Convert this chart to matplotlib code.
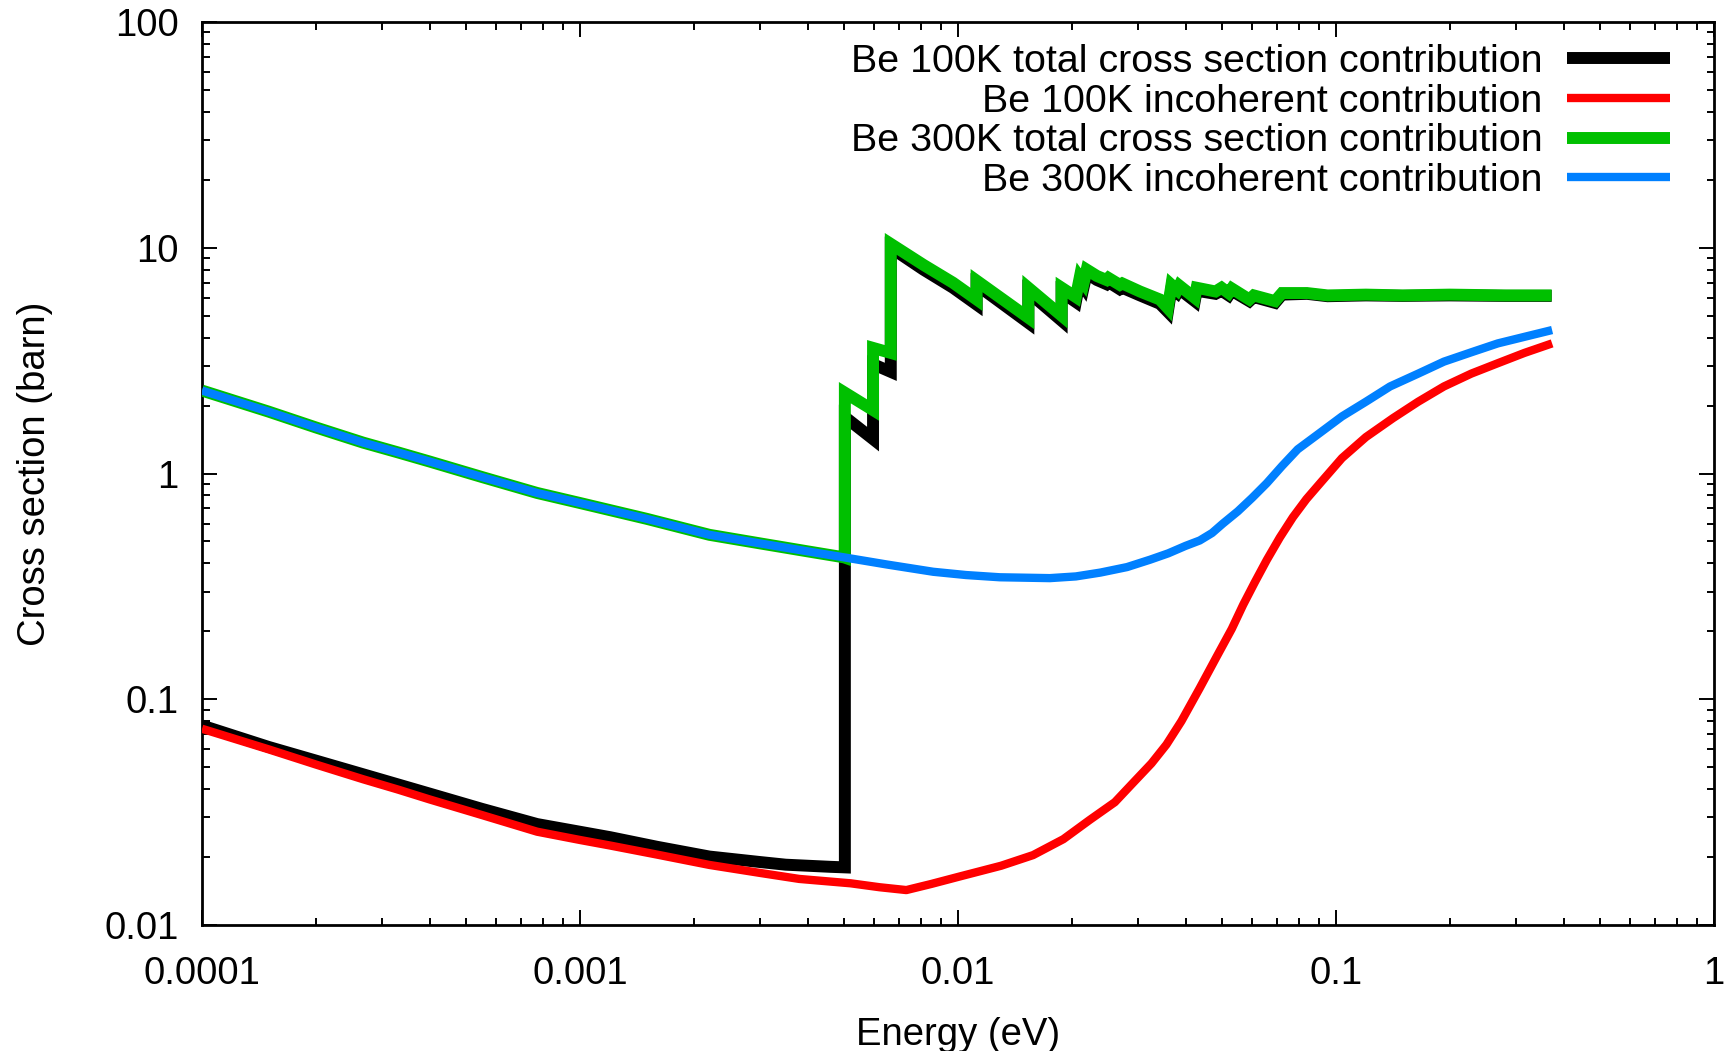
import matplotlib
matplotlib.use("Agg")
import matplotlib.pyplot as plt
from matplotlib.ticker import FixedLocator, FixedFormatter, LogLocator, NullFormatter

plt.rcParams['font.family'] = ['Liberation Sans', 'DejaVu Sans']

# Be 300K incoherent contribution (blue)
e_300_inc = [1.0e-4, 1.5e-4, 2.0e-4, 2.67e-4, 3.3e-4, 4.0e-4, 5.5e-4, 7.7e-4, 1.0e-3,
             1.5e-3, 2.2e-3, 3.0e-3, 4.0e-3, 5.0e-3, 6.5e-3, 8.6e-3, 0.0105, 0.0129,
             0.0175, 0.0205, 0.0238, 0.028, 0.0322, 0.036, 0.040, 0.0436, 0.047,
             0.0502, 0.055, 0.060, 0.0656, 0.072, 0.0792, 0.09, 0.1037, 0.12, 0.139,
             0.165, 0.193, 0.23, 0.268, 0.315, 0.373]
s_300_inc = [2.33, 1.88, 1.60, 1.37, 1.24, 1.13, 0.965, 0.82, 0.74,
             0.63, 0.535, 0.49, 0.452, 0.425, 0.395, 0.367, 0.355, 0.347,
             0.344, 0.350, 0.364, 0.385, 0.415, 0.443, 0.478, 0.505, 0.545,
             0.60, 0.68, 0.78, 0.906, 1.08, 1.28, 1.50, 1.79, 2.08, 2.43,
             2.77, 3.13, 3.46, 3.77, 4.03, 4.32]

# Be 100K incoherent contribution (red)
e_100_inc = [1.0e-4, 1.5e-4, 2.0e-4, 2.67e-4, 3.3e-4, 4.0e-4, 5.5e-4, 7.7e-4, 1.0e-3,
             1.2e-3, 1.6e-3, 2.2e-3, 3.0e-3, 3.8e-3, 5.2e-3, 6.2e-3, 7.3e-3, 8.5e-3,
             0.0101, 0.013, 0.0158, 0.019, 0.0223, 0.026, 0.029, 0.0325, 0.0356,
             0.039, 0.0436, 0.0484, 0.053, 0.0568, 0.061, 0.0656, 0.071, 0.0769,
             0.0835, 0.0908, 0.1037, 0.12, 0.1416, 0.165, 0.193, 0.228, 0.268,
             0.315, 0.373]
s_100_inc = [0.074, 0.060, 0.0514, 0.0442, 0.0398, 0.036, 0.0307, 0.0259, 0.0238,
             0.0225, 0.0205, 0.01845, 0.0170, 0.0160, 0.0153, 0.0147, 0.01428, 0.0152,
             0.0164, 0.0183, 0.0204, 0.0240, 0.0292, 0.0350, 0.0425, 0.052, 0.063,
             0.080, 0.112, 0.155, 0.205, 0.262, 0.33, 0.414, 0.52, 0.64,
             0.77, 0.906, 1.17, 1.45, 1.76, 2.08, 2.43, 2.77, 3.08,
             3.42, 3.77]

# Bragg edges, 300K total (green); below the first edge it is the incoherent part
e_300_bragg = [5.02e-3, 5.02e-3, 5.96e-3, 5.96e-3, 6.64e-3, 6.64e-3, 8.1e-3, 9.7e-3,
               0.0112, 0.0112, 0.01535, 0.01535, 0.0188, 0.0188, 0.0205, 0.0210,
               0.0215, 0.0219, 0.0233, 0.0247, 0.0250, 0.0268, 0.0272, 0.0303,
               0.0342, 0.0359, 0.0367, 0.0380, 0.0385, 0.0423, 0.0428, 0.0480,
               0.0498, 0.0520, 0.0530, 0.0590, 0.0606, 0.0690, 0.0720, 0.0838,
               0.095, 0.12, 0.15, 0.2, 0.28, 0.372]
s_300_bragg = [0.424, 2.28, 1.91, 3.60, 3.42, 10.4, 8.4, 7.0,
               5.9, 7.15, 4.9, 6.65, 5.0, 6.65, 6.05, 7.4,
               7.0, 8.0, 7.5, 7.2, 7.35, 6.85, 6.95, 6.4,
               5.9, 5.4, 6.85, 6.5, 6.8, 6.0, 6.65, 6.4,
               6.65, 6.3, 6.6, 5.9, 6.15, 5.8, 6.3, 6.3,
               6.15, 6.2, 6.15, 6.2, 6.15, 6.15]

# 100K total (black)
e_100_tot = [1.0e-4, 1.5e-4, 2.0e-4, 2.67e-4, 4.0e-4, 5.5e-4, 7.7e-4, 1.2e-3, 1.6e-3,
             2.2e-3, 3.0e-3, 3.5e-3, 4.6e-3,
             5.02e-3, 5.02e-3, 5.96e-3, 5.96e-3, 6.64e-3, 6.64e-3, 8.1e-3, 9.7e-3,
             0.0112, 0.0112, 0.01535, 0.01535, 0.0188, 0.0188, 0.0205, 0.0210,
             0.0215, 0.0219, 0.0233, 0.0247, 0.0250, 0.0268, 0.0272, 0.0303,
             0.0342, 0.0359, 0.0367, 0.0380, 0.0385, 0.0423, 0.0428, 0.0480,
             0.0498, 0.0520, 0.0530, 0.0590, 0.0606, 0.0690, 0.0720, 0.0838,
             0.095, 0.12, 0.15, 0.2, 0.28, 0.372]
s_100_tot = [0.0765, 0.0615, 0.0535, 0.0465, 0.0382, 0.0327, 0.0280, 0.0245, 0.0222,
             0.0201, 0.0190, 0.0185, 0.0181,
             0.0180, 1.78, 1.42, 3.05, 2.82, 10.0, 8.0, 6.65,
             5.6, 6.85, 4.65, 6.35, 4.75, 6.35, 5.75, 7.1,
             6.7, 7.7, 7.2, 6.9, 7.05, 6.55, 6.65, 6.15,
             5.65, 5.2, 6.6, 6.3, 6.55, 5.8, 6.45, 6.25,
             6.45, 6.15, 6.45, 5.8, 6.05, 5.7, 6.2, 6.25,
             6.1, 6.15, 6.12, 6.15, 6.12, 6.12]

labels = ["Be 100K total cross section contribution",
          "Be 100K incoherent contribution",
          "Be 300K total cross section contribution",
          "Be 300K incoherent contribution"]
colors = ["black", "#ff0000", "#00c000", "#0080ff"]

x_ticks = [1e-4, 1e-3, 1e-2, 1e-1, 1]
x_ticklabels = ["0.0001", "0.001", "0.01", "0.1", "1"]
y_ticks = [1e-2, 1e-1, 1, 10, 100]
y_ticklabels = ["0.01", "0.1", "1", "10", "100"]

n_low = 14  # points of the 300K incoherent curve below the first Bragg edge
e_300_tot = e_300_inc[:n_low] + e_300_bragg
s_300_tot = s_300_inc[:n_low] + s_300_bragg

fs = 27.5
fig = plt.figure(figsize=(17.31, 10.51), dpi=100)
ax = fig.add_axes([202 / 1731, 1 - 925 / 1051, 1512 / 1731, 903 / 1051])

thick = 8.6
thin = 6.0
ax.plot(e_100_tot, s_100_tot, color=colors[0], lw=thick, label=labels[0],
        solid_joinstyle="miter", solid_capstyle="butt", zorder=2)
ax.plot(e_100_inc, s_100_inc, color=colors[1], lw=thin, label=labels[1],
        solid_capstyle="butt", zorder=3)
ax.plot(e_300_tot, s_300_tot, color=colors[2], lw=thick, label=labels[2],
        solid_joinstyle="miter", solid_capstyle="butt", zorder=4)
ax.plot(e_300_inc, s_300_inc, color=colors[3], lw=thin, label=labels[3],
        solid_capstyle="butt", zorder=5)

ax.set_xscale("log")
ax.set_yscale("log")
ax.set_xlim(1e-4, 1)
ax.set_ylim(1e-2, 100)

for axis, ticks, tl in [(ax.xaxis, x_ticks, x_ticklabels), (ax.yaxis, y_ticks, y_ticklabels)]:
    axis.set_major_locator(FixedLocator(ticks))
    axis.set_major_formatter(FixedFormatter(tl))
    axis.set_minor_locator(LogLocator(base=10, subs=range(2, 10), numticks=20))
    axis.set_minor_formatter(NullFormatter())

ax.tick_params(which="both", direction="in", top=True, right=True, width=1.4)
ax.tick_params(which="major", length=10.8, labelsize=fs)
ax.tick_params(which="minor", length=5.4)
ax.tick_params(axis="x", which="major", pad=22)
ax.tick_params(axis="y", which="major", pad=17)
for sp in ax.spines.values():
    sp.set_linewidth(2.0)

ax.set_xlabel("Energy (eV)", fontsize=fs, labelpad=18)
ax.set_ylabel("Cross section (barn)", fontsize=fs, labelpad=37)

ax.legend(loc="upper right", bbox_to_anchor=(1670 / 1731, 1 - 44 / 1051),
          bbox_transform=fig.transFigure, frameon=False, markerfirst=False,
          fontsize=28.4, handlelength=2.6, handletextpad=0.63, labelspacing=0.095,
          borderpad=0, borderaxespad=0)

fig.savefig("out.png", dpi=100)
